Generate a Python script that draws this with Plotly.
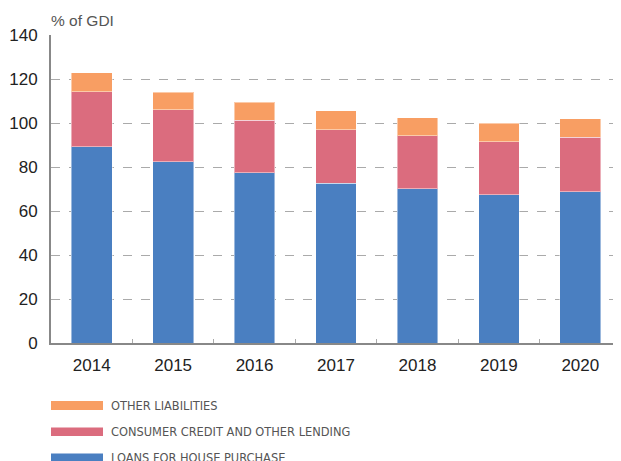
import plotly.graph_objects as go

years = ["2014", "2015", "2016", "2017", "2018", "2019", "2020"]
house = [89.3, 82.3, 77.4, 72.7, 70.2, 67.4, 68.8]
consumer = [24.9, 23.8, 23.8, 24.3, 23.9, 24.1, 24.8]
other = [8.7, 7.9, 8.2, 8.5, 8.3, 8.5, 8.4]
series_names = ["LOANS FOR HOUSE PURCHASE", "CONSUMER CREDIT AND OTHER LENDING", "OTHER LIABILITIES"]
colors = ["#4A7FC1", "#DB6C7E", "#F89E63"]

fig = go.Figure()
for name, vals, col in zip(series_names, [house, consumer, other], colors):
    fig.add_trace(go.Bar(x=years, y=vals, name=name, marker=dict(color=col, line=dict(color="rgba(255,255,255,0.45)", width=1)), showlegend=False))

OFF = 8  # page body margin
W, H = 613, 475
L, T = 51 - OFF, 35 - OFF
plot_bottom = 343 - OFF
R = 0
B = H - plot_bottom
pw, ph = W - L - R, H - T - B

def px_x(x):
    return (x - OFF - L) / pw

def px_y(y):
    return (plot_bottom - (y - OFF)) / ph

shapes = []
annotations = []
# legend rows (top to bottom: other, consumer, house)
rows = [(series_names[2], colors[2], 401, 410), (series_names[1], colors[1], 427.5, 436), (series_names[0], colors[0], 453.5, 462)]
for name, col, y0, y1 in rows:
    shapes.append(dict(type="rect", xref="paper", yref="paper", x0=px_x(51), x1=px_x(103), y0=px_y(y1), y1=px_y(y0),
                       fillcolor=col, line=dict(width=0), layer="above"))
    annotations.append(dict(xref="paper", yref="paper", x=px_x(109), y=px_y((y0 + y1) / 2), text=name, showarrow=False,
                            xanchor="left", yanchor="middle",
                            font=dict(family="DejaVu Sans Condensed, Liberation Sans Narrow, Liberation Sans", size=12.7, color="#555555")))

annotations.append(dict(xref="paper", yref="paper", x=px_x(49), y=px_y(20), text="% of GDI", showarrow=False,
                        xanchor="left", yanchor="middle", font=dict(family="Liberation Sans, Arial", size=15.5, color="#555555")))

fig.update_layout(
    barmode="stack", bargap=0.5,
    width=W, height=H,
    margin=dict(l=L, r=R, t=T, b=B, pad=0, autoexpand=False),
    plot_bgcolor="white", paper_bgcolor="white",
    font=dict(family="Liberation Sans, Arial", size=17, color="#222222"),
    shapes=shapes, annotations=annotations,
    xaxis=dict(showline=True, linecolor="#888888", linewidth=2, ticks="inside", tickson="boundaries", ticklen=4,
               tickcolor="#aaaaaa", tickfont=dict(size=17, color="#222222"), showgrid=False, fixedrange=True,
               ticklabelstandoff=6, automargin=False),
    yaxis=dict(range=[0, 140], dtick=20, showline=True, linecolor="#888888", linewidth=2, showgrid=True,
               gridcolor="#aaaaaa", griddash="dash", gridwidth=1.3, zeroline=False, ticks="",
               tickfont=dict(size=17, color="#222222"), ticklabelstandoff=8, automargin=False),
)
fig.write_html("out.html")
